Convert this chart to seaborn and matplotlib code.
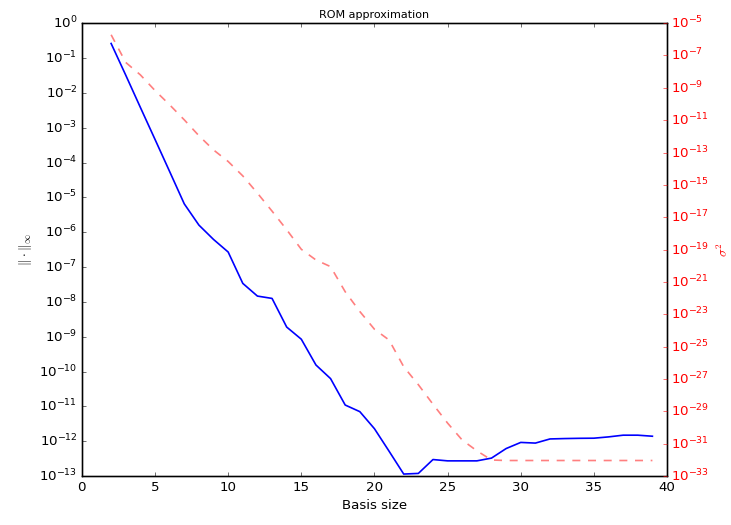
import numpy as np
import pandas as pd
import matplotlib
matplotlib.use("Agg")
import matplotlib.pyplot as plt
import seaborn as sns

# basis sizes
basis_size = list(range(2, 40))

# max-norm error of the ROM (left axis)
err_inf = [2.6e-1, 3.2e-2, 3.8e-3, 4.6e-4, 5.5e-5, 6.5e-6, 1.6e-6, 6.2e-7, 2.7e-7,
           3.4e-8, 1.47e-8, 1.26e-8, 1.9e-9, 8.5e-10, 1.55e-10, 6.3e-11, 1.1e-11,
           7.1e-12, 2.3e-12, 5.2e-13, 1.15e-13, 1.2e-13, 3.0e-13, 2.75e-13, 2.75e-13,
           2.75e-13, 3.3e-13, 6.2e-13, 9.3e-13, 8.9e-13, 1.17e-12, 1.2e-12, 1.22e-12,
           1.23e-12, 1.34e-12, 1.5e-12, 1.5e-12, 1.4e-12]

# variance sigma^2 (right axis)
sigma2 = [1.9e-6, 3.7e-8, 6.3e-9, 6.8e-10, 8.9e-11, 1.05e-11, 1.1e-12, 1.45e-13, 2.8e-14,
          3.6e-15, 3.1e-16, 2.4e-17, 1.7e-18, 1.05e-19, 2.3e-20, 8.9e-21, 2.5e-22,
          1.5e-23, 1.2e-24, 2.6e-25, 5.8e-27, 4.5e-28, 2.8e-29, 1.9e-30, 1.7e-31,
          3.7e-32, 1.0e-32, 9.3e-33, 9.3e-33, 9.3e-33, 9.3e-33, 9.3e-33, 9.3e-33,
          9.3e-33, 9.3e-33, 9.3e-33, 9.3e-33, 9.3e-33]

df = pd.DataFrame({'n': basis_size, 'err': err_inf, 'sigma2': sigma2})

plt.style.use('classic')
plt.rcParams['figure.facecolor'] = 'white'
plt.rcParams['savefig.facecolor'] = 'white'
plt.rcParams['axes.linewidth'] = 1.2

fig, ax = plt.subplots(figsize=(731 / 80, 525 / 80), dpi=80)
fig.subplots_adjust(left=0.112, right=0.9125, top=0.956, bottom=0.093)

sns.lineplot(data=df, x='n', y='err', color='b', linewidth=1.5, ax=ax)
ax.set_yscale('log')
ax.set_ylim(1e-13, 1e0)
ax.set_yticks([10.0 ** k for k in range(-13, 1)])
ax.set_xlim(0, 40)
ax.set_xticks(range(0, 41, 5))
ax.minorticks_off()
ax.set_xlabel('Basis size')
ax.set_ylabel(r'$\|\cdot\|_\infty$')
ax.set_title('ROM approximation', fontsize=10)

ax2 = ax.twinx()
sns.lineplot(data=df, x='n', y='sigma2', color='r', linewidth=1.5, alpha=0.5, ax=ax2)
ax2.lines[0].set_dashes((7.2, 6.9))
ax2.set_yscale('log')
ax2.set_ylim(1e-33, 1e-5)
ax2.set_yticks([10.0 ** k for k in range(-33, -4, 2)])
ax2.minorticks_off()
ax2.set_ylabel(r'$\sigma^2$', color='r')
ax2.tick_params(axis='y', colors='r')
ax2.set_xlim(0, 40)

fig.savefig('out.png', dpi=80)
